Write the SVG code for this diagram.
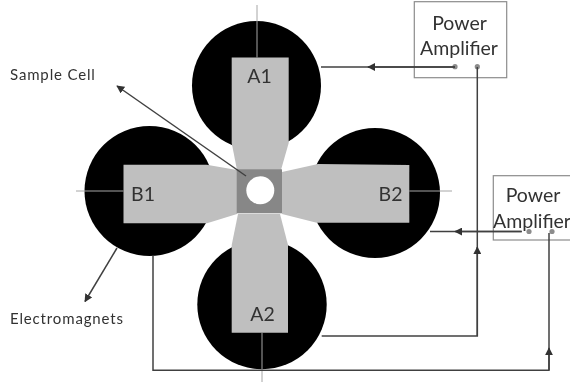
<svg xmlns="http://www.w3.org/2000/svg" width="570" height="383" viewBox="0 0 570 383">
<style>
text{font-family:Lato,"Open Sans","Liberation Sans",sans-serif;fill:#333}
.lbl{font-size:15px;letter-spacing:.85px}
.big{font-size:19.5px;text-anchor:middle}
.mag{fill:#000}
.pole{fill:#bfbfbf}
.axis{stroke:#a6a6a6;stroke-width:1;fill:none}
.wire{stroke:#404040;stroke-width:1.5;fill:none}
.box{fill:none;stroke:#8c8c8c;stroke-width:1.2}
.dot{fill:#8c8c8c}
</style>
<defs>
<marker id="ah" viewBox="0 0 10 10" refX="9" refY="5" markerWidth="8" markerHeight="8" markerUnits="userSpaceOnUse" orient="auto"><path d="M0 0L10 5L0 10Z" fill="#333"/></marker>
<filter id="soft" x="-2%" y="-2%" width="104%" height="104%"><feGaussianBlur stdDeviation="0.45"/></filter>
</defs>
<rect width="570" height="383" fill="#fff"/>
<g filter="url(#soft)">
<g id="magnet-A1"><circle class="mag" cx="256.5" cy="85.5" r="64.5"/><path class="pole" d="M231.7 57.5H288.7V143L281 170H237L231.7 143Z"/><path class="axis" d="M257 5V57.5"/><text class="big" x="259.5" y="82.7">A1</text></g>
<g id="magnet-B1"><circle class="mag" cx="149.5" cy="191" r="65"/><path class="pole" d="M123.5 164.7H206.7L237 170V214L207 223.3H123.5Z"/><path class="axis" d="M76 191H123.5"/><text class="big" x="143" y="201">B1</text></g>
<g id="magnet-B2"><circle class="mag" cx="375" cy="193" r="65"/><path class="pole" d="M409.3 165V222.7H316.7L282 214V172L318 164Z"/><path class="axis" d="M409.3 191H452"/><text class="big" x="390.5" y="201">B2</text></g>
<g id="magnet-A2"><circle class="mag" cx="262" cy="304.6" r="64.7"/><path class="pole" d="M231.7 332.7H288V245L280 214H238L231.7 245Z"/><path class="axis" d="M262 332.7V382"/><text class="big" x="262.5" y="321">A2</text></g>
<g id="sample-cell"><rect x="236.7" y="169.3" width="45.3" height="44" fill="#878787"/><circle cx="260.3" cy="190.3" r="14" fill="#fff"/></g>
<g id="amp-1"><rect class="box" x="414.3" y="1.7" width="92.4" height="76"/><text class="big" x="459.5" y="30">Power</text><text class="big" x="459" y="55">Amplifier</text><circle class="dot" cx="455" cy="66.7" r="2.6"/><circle class="dot" cx="477.3" cy="66.7" r="2.6"/></g>
<g id="amp-2"><rect class="box" x="493.3" y="175.7" width="80" height="64.3"/><text class="big" x="533" y="202">Power</text><text class="big" x="532" y="227.7">Amplifier</text><circle class="dot" cx="529" cy="231.5" r="2.6"/><circle class="dot" cx="552" cy="231.5" r="2.6"/></g>
<g id="connectors">
<path class="wire" d="M455 67H321"/><path class="wire" marker-end="url(#ah)" d="M455 67H368"/>
<path class="wire" d="M477.3 67V336H321.7"/><path class="wire" marker-end="url(#ah)" d="M477.3 336V247"/>
<path class="wire" d="M521.7 231.5H430"/><path class="wire" marker-end="url(#ah)" d="M521.7 231.5H455"/>
<path class="wire" d="M549 233V370.3H153V255.5"/><path class="wire" marker-end="url(#ah)" d="M549 370V348"/>
<path class="wire" marker-end="url(#ah)" d="M246 176L117 86"/>
<path class="wire" marker-end="url(#ah)" d="M117 248L85 301.5"/>
</g>
<g id="labels"><text class="lbl" x="10" y="80">Sample Cell</text><text class="lbl" x="10" y="324">Electromagnets</text></g>
</g>
</svg>
